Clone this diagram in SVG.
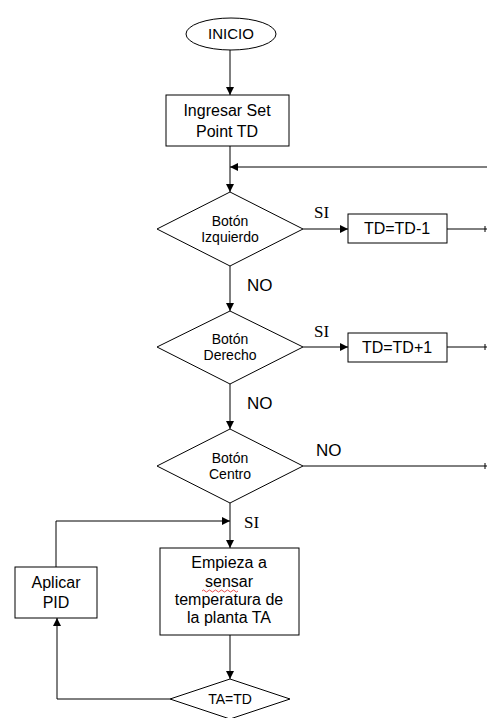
<svg xmlns="http://www.w3.org/2000/svg" width="487" height="718" viewBox="0 0 487 718">
<defs>
<marker id="ah" viewBox="0 0 10 10" refX="10" refY="5" markerWidth="8" markerHeight="8" markerUnits="userSpaceOnUse" orient="auto">
<path d="M0,0 L10,5 L0,10 z" fill="#000"/>
</marker>
<style>
.s{fill:#fff;stroke:#000;stroke-width:1}
.c{fill:none;stroke:#000;stroke-width:1}
.t{font-family:"Liberation Sans",Arial,sans-serif;font-size:16px;fill:#000;text-anchor:middle}
.d{font-family:"Liberation Sans",Arial,sans-serif;font-size:14px;fill:#000;text-anchor:middle}
.l{font-family:"Liberation Serif","Times New Roman",serif;font-size:17px;fill:#000}
.n{font-family:"Liberation Sans",Arial,sans-serif;font-size:17px;fill:#000}
</style>
</defs>
<rect width="487" height="718" fill="#fff"/>
<g id="connectors">
<line class="c" x1="230" y1="50" x2="230" y2="95" marker-end="url(#ah)"/>
<line class="c" x1="230" y1="146" x2="230" y2="192" marker-end="url(#ah)"/>
<line class="c" x1="487" y1="167" x2="230" y2="167" marker-end="url(#ah)"/>
<line class="c" x1="303" y1="229" x2="348" y2="229" marker-end="url(#ah)"/>
<line class="c" x1="447" y1="229" x2="487" y2="229"/>
<line class="c" x1="485" y1="226" x2="485" y2="232"/>
<line class="c" x1="230" y1="266" x2="230" y2="311" marker-end="url(#ah)"/>
<line class="c" x1="303" y1="347" x2="348" y2="347" marker-end="url(#ah)"/>
<line class="c" x1="447" y1="347" x2="487" y2="347"/>
<line class="c" x1="485" y1="344" x2="485" y2="350"/>
<line class="c" x1="230" y1="384" x2="230" y2="429" marker-end="url(#ah)"/>
<line class="c" x1="303" y1="466" x2="487" y2="466"/>
<line class="c" x1="485" y1="463" x2="485" y2="469"/>
<line class="c" x1="230" y1="503" x2="230" y2="548" marker-end="url(#ah)"/>
<polyline class="c" points="56,567 56,521 230,521" marker-end="url(#ah)"/>
<line class="c" x1="230" y1="635" x2="230" y2="679" marker-end="url(#ah)"/>
<polyline class="c" points="170,699 57,699 57,618" marker-end="url(#ah)"/>
<text class="l" x="314" y="218">SI</text>
<text class="n" x="247" y="291">NO</text>
<text class="l" x="314" y="337">SI</text>
<text class="n" x="247" y="409">NO</text>
<text class="n" x="316" y="456">NO</text>
<text class="l" x="244" y="528">SI</text>
</g>
<g id="inicio">
<ellipse class="s" cx="231" cy="34" rx="45" ry="16"/>
<text class="t" x="231" y="39" style="font-size:15px">INICIO</text>
</g>
<g id="ingresar">
<rect class="s" x="166" y="95" width="123" height="51"/>
<text class="t" x="227" y="116">Ingresar Set</text>
<text class="t" x="227" y="137">Point TD</text>
</g>
<g id="boton-izquierdo">
<polygon class="s" points="230,192 303,229 230,266 157,229"/>
<text class="d" x="230" y="226">Botón</text>
<text class="d" x="230" y="242">Izquierdo</text>
</g>
<g id="td-menos">
<rect class="s" x="348" y="214" width="99" height="29"/>
<text class="t" x="397" y="234">TD=TD-1</text>
</g>
<g id="boton-derecho">
<polygon class="s" points="230,311 303,347 230,384 157,347"/>
<text class="d" x="230" y="344">Botón</text>
<text class="d" x="230" y="360">Derecho</text>
</g>
<g id="td-mas">
<rect class="s" x="348" y="333" width="99" height="29"/>
<text class="t" x="397" y="353">TD=TD+1</text>
</g>
<g id="boton-centro">
<polygon class="s" points="230,429 303,466 230,503 157,466"/>
<text class="d" x="230" y="463">Botón</text>
<text class="d" x="230" y="479">Centro</text>
</g>
<g id="empieza">
<rect class="s" x="160" y="548" width="139" height="87"/>
<text class="t" x="229" y="568">Empieza a</text>
<text class="t" x="229" y="587">sensar</text>
<path d="M202,591 q1.5,-2 3,0 t3,0 t3,0 t3,0 t3,0 t3,0 t3,0 t3,0 t3,0 t3,0 t3,0 t3,0" fill="none" stroke="#e02020" stroke-width="0.8"/>
<text class="t" x="229" y="605">temperatura de</text>
<text class="t" x="229" y="623">la planta TA</text>
</g>
<g id="aplicar-pid">
<rect class="s" x="15" y="567" width="82" height="51"/>
<text class="t" x="56" y="588">Aplicar</text>
<text class="t" x="56" y="608">PID</text>
</g>
<g id="ta-td">
<polygon class="s" points="230,679 290,699 230,719 170,699"/>
<text class="t" x="230" y="704" style="font-size:14px">TA=TD</text>
</g>
</svg>
